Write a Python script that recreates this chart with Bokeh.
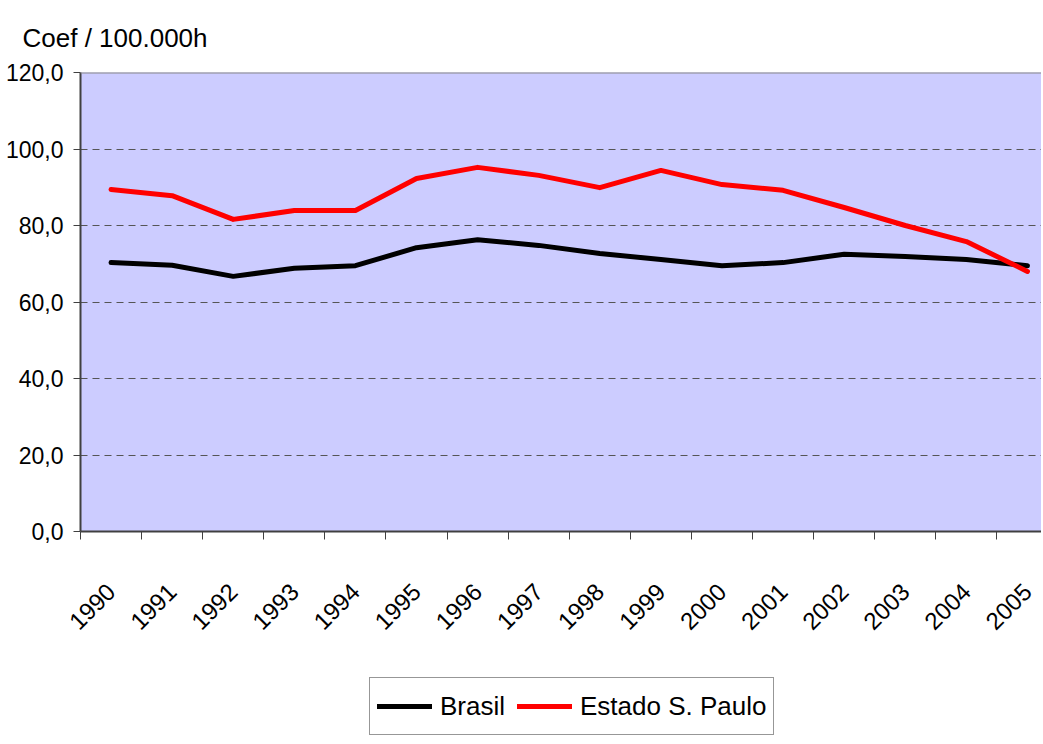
import math
from bokeh.plotting import figure
from bokeh.layouts import column
from bokeh.models import (Range1d, FixedTicker, Legend, LegendItem, Span, ColumnDataSource)
from bokeh.embed import file_html
from bokeh.resources import INLINE

years = ["1990", "1991", "1992", "1993", "1994", "1995", "1996", "1997",
         "1998", "1999", "2000", "2001", "2002", "2003", "2004", "2005"]
brasil = [70.3, 69.6, 66.7, 68.8, 69.5, 74.2, 76.3, 74.8,
          72.7, 71.1, 69.5, 70.3, 72.5, 71.9, 71.1, 69.5]
sao_paulo = [89.4, 87.8, 81.6, 83.9, 83.9, 92.3, 95.2, 93.1,
             89.9, 94.4, 90.7, 89.2, 84.7, 80.0, 75.8, 68.0]
y_ticks = [0, 20, 40, 60, 80, 100, 120]
y_labels = ["0,0", "20,0", "40,0", "60,0", "80,0", "100,0", "120,0"]
title_text = "Coef / 100.000h"
series_names = ["Brasil", "Estado S. Paulo"]
series_colors = ["black", "#FF0000"]

FONT = "'Liberation Sans', Arial, sans-serif"

n = len(years)
xs = [i + 0.5 for i in range(n)]

p = figure(width=1041, height=670, output_backend="svg", toolbar_location=None,
           x_range=Range1d(0, 15.73), y_range=Range1d(0, 120),
           min_border_left=80, min_border_right=0, min_border_top=72,
           min_border_bottom=139)
p.background_fill_color = "#CCCCFF"
p.border_fill_color = "white"
p.outline_line_color = None

p.title.text = title_text
p.title.text_font = FONT
p.title.text_font_size = "26px"
p.title.text_font_style = "normal"
p.title.text_color = "black"
p.title.align = "left"
p.title.vertical_align = "bottom"
p.title.offset = -58
p.title.standoff = 39

xa = p.below[0]
ya = p.left[0]

# y axis
ya.ticker = FixedTicker(ticks=y_ticks)
ya.major_label_overrides = {t: l for t, l in zip(y_ticks, y_labels)}
ya.major_label_text_font = FONT
ya.major_label_text_font_size = "23px"
ya.major_label_text_color = "black"
ya.major_tick_out = 7
ya.major_tick_in = 0
ya.minor_tick_line_color = None
ya.major_label_standoff = 10
ya.axis_line_color = "#404040"
ya.axis_line_width = 2
ya.major_tick_line_color = "#404040"

# x axis
xa.ticker = FixedTicker(ticks=xs, minor_ticks=list(range(n + 1)))
xa.major_label_overrides = {x: y for x, y in zip(xs, years)}
xa.major_label_orientation = math.pi / 4
xa.major_label_text_font = FONT
xa.major_label_text_font_size = "24px"
xa.major_label_text_color = "black"
xa.major_tick_line_color = None
xa.major_tick_out = 0
xa.major_tick_in = 0
xa.minor_tick_out = 8
xa.minor_tick_in = 0
xa.minor_tick_line_color = "#404040"
xa.major_label_standoff = 48
xa.axis_line_color = "#404040"
xa.axis_line_width = 2

p.xgrid.grid_line_color = None
p.ygrid.ticker = FixedTicker(ticks=y_ticks)
p.ygrid.grid_line_color = "#555555"
p.ygrid.grid_line_dash = "7 5"
p.ygrid.grid_line_width = 1

p.add_layout(Span(location=120, dimension="width", line_color="#888888", line_width=2))

src = ColumnDataSource(dict(x=xs, brasil=brasil, sp=sao_paulo))
p.line("x", "brasil", source=src, line_color=series_colors[0], line_width=5,
       line_join="round", line_cap="round")
p.line("x", "sp", source=src, line_color=series_colors[1], line_width=5,
       line_join="round", line_cap="round")

# legend strip (series copies kept outside its visible range; only the legend shows)
p2 = figure(width=1041, height=66, output_backend="svg", toolbar_location=None,
            x_range=Range1d(0, 1), y_range=Range1d(1000, 1001),
            x_axis_location=None, y_axis_location=None, min_border=0)
p2.outline_line_color = None
p2.grid.visible = False
p2.background_fill_color = "white"
p2.border_fill_color = "white"
l1 = p2.line(x=xs, y=brasil, line_color=series_colors[0], line_width=5, line_cap="round")
l2 = p2.line(x=xs, y=sao_paulo, line_color=series_colors[1], line_width=5, line_cap="round")

legend = Legend(items=[LegendItem(label=series_names[0], renderers=[l1]),
                       LegendItem(label=series_names[1], renderers=[l2])],
                orientation="horizontal", location=(289, 1))
legend.label_text_font = FONT
legend.label_text_font_size = "26px"
legend.label_text_color = "black"
legend.glyph_width = 55
legend.glyph_height = 20
legend.label_height = 42
legend.label_standoff = 8
legend.spacing = 12
legend.padding = 7
legend.margin = 0
legend.border_line_color = "#303030"
legend.border_line_width = 1
legend.background_fill_color = "white"
legend.background_fill_alpha = 1
p2.add_layout(legend, "center")

layout = column(p, p2, spacing=0)
open("out.html", "w").write(file_html(layout, INLINE))
